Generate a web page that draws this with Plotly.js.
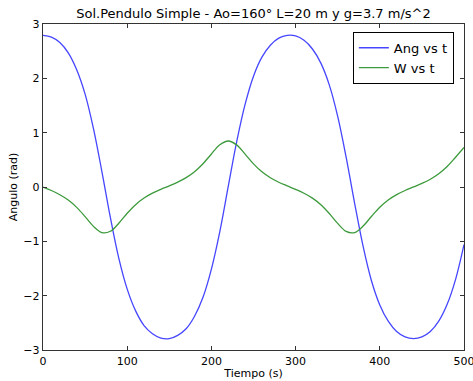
<!DOCTYPE html>
<html>
<head>
<meta charset="utf-8">
<script src="https://cdn.plot.ly/plotly-3.0.1.min.js"></script>
<style>html,body{margin:0;padding:0;background:#fff;}#chart{width:473px;height:381px;}</style>
</head>
<body>
<div id="chart"></div>
<script>
// Time (s) samples
const tiempo = [0,10,20,30,40,50,60,70,80,90,100,110,120,130,140,150,160,170,180,190,200,
  210,220,230,240,250,260,270,280,290,300,310,320,330,340,350,360,370,380,390,400,
  410,420,430,440,450,460,470,480,490,500];
// Angle (rad)
const angulo = [2.79,2.76,2.66,2.47,2.16,1.71,1.07,0.28,-0.56,-1.31,-1.88,-2.28,-2.55,-2.70,-2.78,
  -2.79,-2.73,-2.61,-2.38,-2.03,-1.51,-0.82,0.01,0.83,1.52,2.04,2.39,2.61,2.74,2.79,
  2.78,2.70,2.54,2.28,1.88,1.30,0.55,-0.29,-1.08,-1.72,-2.17,-2.47,-2.66,-2.76,-2.79,
  -2.76,-2.66,-2.47,-2.16,-1.70,-1.06];
// Angular velocity W (rad/s)
const omega = [0.00,-0.065,-0.142,-0.241,-0.375,-0.545,-0.725,-0.839,-0.815,-0.667,-0.484,-0.325,-0.204,-0.114,-0.042,
  0.021,0.089,0.172,0.282,0.429,0.608,0.777,0.847,0.775,0.606,0.426,0.280,0.170,0.088,0.021,
  -0.043,-0.115,-0.205,-0.327,-0.487,-0.670,-0.817,-0.838,-0.723,-0.543,-0.373,-0.240,-0.140,-0.064,0.001,
  0.066,0.143,0.243,0.377,0.548,0.727];
const seriesNames = ["Ang vs t", "W vs t"];
const chartTitle = "Sol.Pendulo Simple - Ao=160\u00b0 L=20 m y g=3.7 m/s^2";
const xTitle = "Tiempo (s)";
const yTitle = "Angulo (rad)";

const font = "DejaVu Sans, sans-serif";
const traces = [
  {x: tiempo, y: angulo, name: seriesNames[0], type: "scatter", mode: "lines",
   line: {color: "#4646ff", width: 1.3, shape: "spline", smoothing: 1}},
  {x: tiempo, y: omega, name: seriesNames[1], type: "scatter", mode: "lines",
   line: {color: "#3c9a3c", width: 1.3, shape: "spline", smoothing: 1}}
];
const axisCommon = {
  showline: true, linecolor: "#333", linewidth: 1.3, mirror: "ticks",
  ticks: "inside", ticklen: 4, tickcolor: "#333", tickwidth: 1,
  showgrid: false, zeroline: false, ticklabeloverflow: "allow",
  tickfont: {family: font, size: 11, color: "#000"}
};
const layout = {
  width: 473, height: 381,
  margin: {l: 43, r: 9, t: 24, b: 31, pad: 0},
  paper_bgcolor: "#fff", plot_bgcolor: "#fff",
  font: {family: font, color: "#000"},
  title: {text: chartTitle, font: {family: font, size: 13, color: "#000"},
    xref: "paper", x: 0.5, xanchor: "center", yref: "container", y: 0.966, yanchor: "middle"},
  xaxis: Object.assign({}, axisCommon, {range: [0, 500], dtick: 100, tick0: 0,
    title: {text: xTitle, font: {family: font, size: 11, color: "#000"}, standoff: 2}}),
  yaxis: Object.assign({}, axisCommon, {range: [-3, 3], dtick: 1, tick0: 0,
    title: {text: yTitle, font: {family: font, size: 11, color: "#000"}, standoff: 3}}),
  showlegend: true,
  legend: {x: 0.736, y: 0.976, xanchor: "left", yanchor: "top",
    bgcolor: "#fff", bordercolor: "#000", borderwidth: 1,
    font: {family: font, size: 13, color: "#000"}}
};
Plotly.newPlot("chart", traces, layout, {displayModeBar: false, staticPlot: true});
</script>
</body>
</html>
